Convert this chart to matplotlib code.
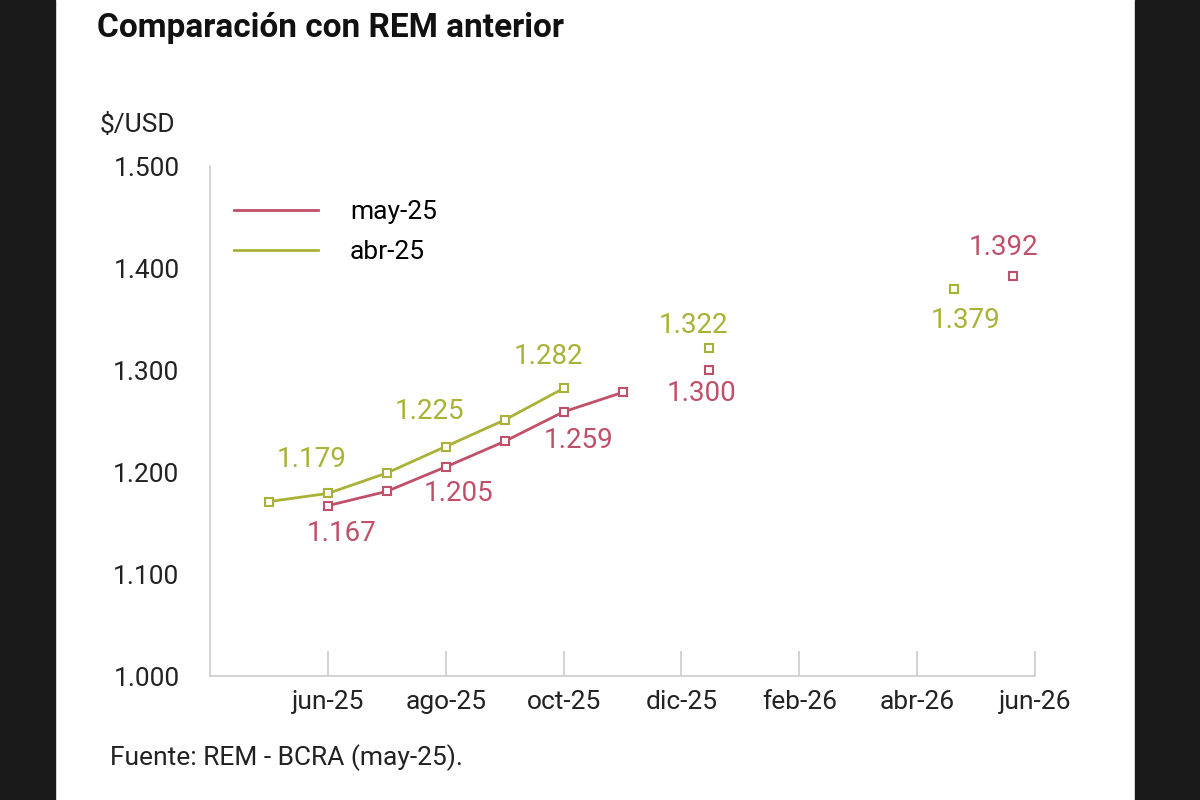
import matplotlib
matplotlib.use("Agg")
import matplotlib.pyplot as plt
from matplotlib.patches import Rectangle

months = ["jun-25", "ago-25", "oct-25", "dic-25", "feb-26", "abr-26", "jun-26"]
month_pos = [2, 4, 6, 8, 10, 12, 14]

abr_x = [1, 2, 3, 4, 5, 6]
abr_y = [1171, 1179, 1199, 1225, 1251, 1282]
abr_ext_x = [8.47, 12.63]
abr_ext_y = [1322, 1379]

may_x = [2, 3, 4, 5, 6, 7]
may_y = [1167, 1181, 1205, 1230, 1259, 1278]
may_ext_x = [8.47, 13.63]
may_ext_y = [1300, 1392]

green_labels = [(1.73, 1212, "1.179"), (3.73, 1259, "1.225"), (5.75, 1313, "1.282"),
                (8.2, 1344, "1.322"), (12.83, 1349, "1.379")]
red_labels = [(2.24, 1140, "1.167"), (4.22, 1179, "1.205"), (6.25, 1231, "1.259"),
              (8.34, 1277, "1.300"), (13.47, 1420, "1.392")]

RED = "#c0506a"
GREEN = "#a9b236"
plt.rcParams["font.family"] = "Roboto"

fig = plt.figure(figsize=(12, 8), dpi=100)
fig.patches.append(Rectangle((0, 0), 55/1200, 1, transform=fig.transFigure, color="#1a1a1a"))
fig.patches.append(Rectangle((1135/1200, 0), 65/1200, 1, transform=fig.transFigure, color="#1a1a1a"))

ax = fig.add_axes([0.175, 0.155, 0.6875, 0.6375])
ax.plot(may_x, may_y, color=RED, lw=2, marker="s", ms=6, mfc="white", mew=1.5, label="may-25")
ax.plot(abr_x, abr_y, color=GREEN, lw=2, marker="s", ms=6, mfc="white", mew=1.5, label="abr-25")
ax.plot(may_ext_x, may_ext_y, ls="none", marker="s", ms=6, mfc="white", mec=RED, mew=1.5)
ax.plot(abr_ext_x, abr_ext_y, ls="none", marker="s", ms=6, mfc="white", mec=GREEN, mew=1.5)
for x, y, t in green_labels:
    ax.text(x, y, t, color=GREEN, fontsize=20, ha="center", va="center")
for x, y, t in red_labels:
    ax.text(x, y, t, color=RED, fontsize=20, ha="center", va="center")

ax.set_xlim(0, 14)
ax.set_ylim(1000, 1500)
yt = [1000, 1100, 1200, 1300, 1400, 1500]
ax.set_yticks(yt)
ax.set_yticklabels([f"{v/1000:.3f}" for v in yt])
ax.set_xticks(month_pos)
ax.set_xticklabels(months)
ax.tick_params(axis="x", direction="in", length=18, width=1.2, color="#cccccc", labelsize=19, pad=10, labelcolor="#222222")
ax.tick_params(axis="y", length=0, labelsize=19, pad=22, labelcolor="#222222")
for s in ["top", "right"]:
    ax.spines[s].set_visible(False)
for s in ["left", "bottom"]:
    ax.spines[s].set_color("#cccccc")
    ax.spines[s].set_linewidth(1.2)

leg = ax.legend(loc="upper left", bbox_to_anchor=(0.0, 0.98), frameon=False, fontsize=19,
                handlelength=3.2, handletextpad=1.2, labelspacing=0.6)
for h in leg.legend_handles:
    h.set_marker("")

fig.text(97/1200, 1-28/800, "Comparación con REM anterior", fontsize=24, fontweight="bold",
         va="center", color="#111111")
fig.text(100/1200, 1-125/800, "$/USD", fontsize=19, va="center", color="#222222")
fig.text(110/1200, 1-758/800, "Fuente: REM - BCRA (may-25).", fontsize=19, va="center", color="#222222")

fig.savefig("out.png")
